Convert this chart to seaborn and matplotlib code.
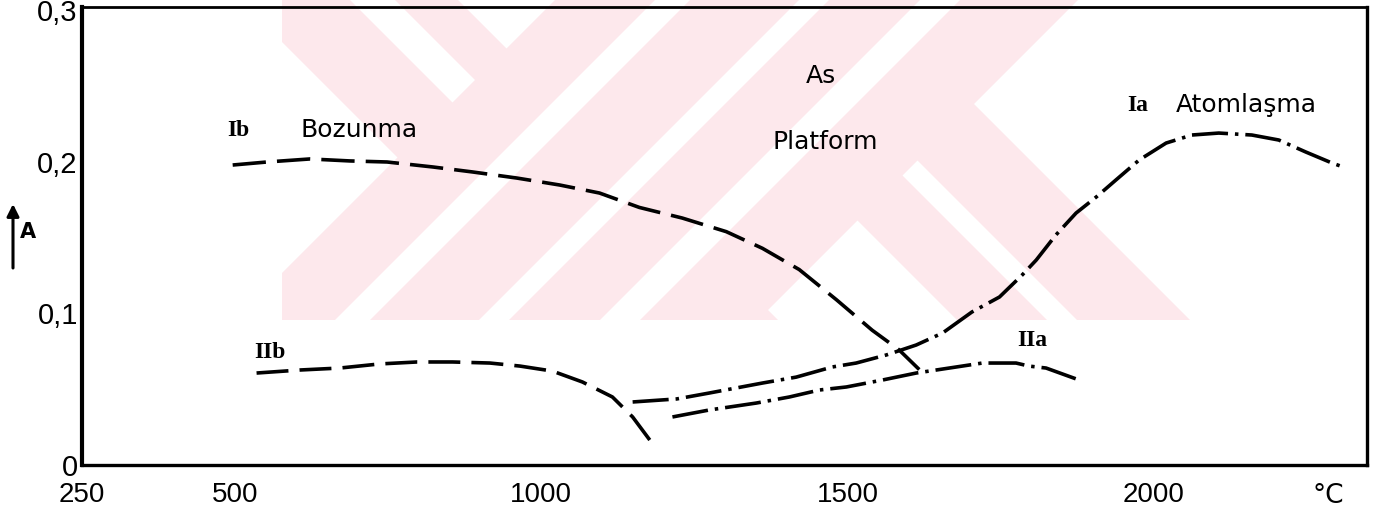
import matplotlib
matplotlib.use("Agg")
import matplotlib.pyplot as plt
from matplotlib import font_manager
from matplotlib.patches import Polygon, Rectangle
import seaborn as sns

# Absorbance A versus temperature (°C)
# Ib: decomposition (dashed)
ib_temp = [496, 552, 622, 687, 748, 823, 888, 960, 1030, 1095, 1160, 1230,
           1302, 1361, 1421, 1482, 1540, 1584, 1617]
ib_abs = [0.198, 0.200, 0.202, 0.2007, 0.200, 0.1967, 0.1934, 0.1894, 0.1848,
          0.1795, 0.170, 0.163, 0.154, 0.143, 0.129, 0.109, 0.089, 0.076, 0.063]

# IIb (dashed)
iib_temp = [535, 606, 671, 736, 797, 855, 916, 965, 1018, 1067, 1116, 1149, 1177]
iib_abs = [0.0607, 0.0627, 0.064, 0.0667, 0.068, 0.068, 0.0673, 0.0653, 0.062,
           0.0548, 0.0449, 0.0317, 0.0165]

# Ia: atomisation (dash-dot)
ia_temp = [1149, 1221, 1274, 1361, 1416, 1475, 1514, 1563, 1612, 1655, 1703,
           1748, 1785, 1808, 1840, 1873, 1906, 1938, 1976, 2020, 2062, 2106,
           2160, 2204, 2248, 2291, 2314]
ia_abs = [0.0416, 0.0436, 0.0475, 0.0541, 0.058, 0.0647, 0.0673, 0.0726, 0.0792,
          0.0871, 0.101, 0.1109, 0.1254, 0.1353, 0.1518, 0.1663, 0.1769, 0.1881,
          0.2013, 0.2125, 0.2178, 0.2191, 0.2178, 0.2145, 0.2066, 0.1993, 0.196]

# IIa (dash-dot)
iia_temp = [1214, 1274, 1351, 1405, 1454, 1498, 1557, 1612, 1666, 1720, 1775,
            1796, 1824, 1878]
iia_abs = [0.0317, 0.0363, 0.0409, 0.0449, 0.0495, 0.0515, 0.0561, 0.0607,
           0.064, 0.0673, 0.0673, 0.0653, 0.064, 0.0561]

x_ticks = [250, 500, 1000, 1500, 2000]
x_tick_labels = ["250", "500", "1000", "1500", "2000"]
y_ticks = [0, 0.1, 0.2, 0.3]
y_tick_labels = ["0", "0,1", "0,2", "0,3"]

annotations = [
    ("Ib", 506, 0.221, "serif"),
    ("Bozunma", 606, 0.221, "sans"),
    ("IIb", 557, 0.074, "serif"),
    ("As", 1457, 0.257, "sans"),
    ("Platform", 1464, 0.213, "sans"),
    ("Ia", 1973, 0.2376, "serif"),
    ("Atomlaşma", 2036, 0.2376, "sans"),
    ("IIa", 1801, 0.0825, "serif"),
]


def first_font(names):
    for n in names:
        try:
            font_manager.findfont(n, fallback_to_default=False)
            return n
        except Exception:
            continue
    return "DejaVu Sans"


sns.set_theme(style="white")
plt.rcParams["font.family"] = ["DejaVu Sans"]
plt.rcParams["lines.scale_dashes"] = False

narrow = first_font(["Liberation Sans Narrow", "DejaVu Sans Condensed",
                     "Liberation Sans"])
serif = first_font(["Liberation Serif", "DejaVu Serif"])

W, H = 1383, 516
fig = plt.figure(figsize=(W / 100, H / 100), dpi=100)
fig.patch.set_facecolor("white")

# ---- pale watermark emblem behind the plot ----
PINK = "#fde8ec"


def to_fig(pts):
    return [(x / W, 1 - y / H) for x, y in pts]


def band(a, b, s, y0=0, y1=320):
    return [(a + s * y0, y0), (b + s * y0, y0), (b + s * y1, y1), (a + s * y1, y1)]


clip = Rectangle((282 / W, 1 - 320 / H), (1205 - 282) / W, 320 / H,
                 transform=fig.transFigure)
layers = [
    (band(240, 458, 1), PINK), (band(350, 395, 1), "white"),
    (band(637, 870, 1), PINK), (band(727, 757, 1), "white"),
    (band(555, 1078, -1), PINK),
    (band(655, 690, -1), "white"), (band(799, 829, -1), "white"),
    (band(920, 960, -1), "white"),
]
for pts, col in layers:
    p = Polygon(to_fig(pts), closed=True, transform=fig.transFigure,
                facecolor=col, edgecolor="none", zorder=-2)
    fig.add_artist(p)
    p.set_clip_path(clip)

# ---- main axes ----
ax = fig.add_axes([82 / W, 1 - 465 / H, (1367 - 82) / W, (465 - 7) / H])
ax.set_facecolor("none")

styles = [
    (ib_temp, ib_abs, (0, (24, 8))),
    (iib_temp, iib_abs, (0, (23, 8))),
    (ia_temp, ia_abs, (0, (26, 5, 2.5, 5))),
    (iia_temp, iia_abs, (0, (26, 5, 2.5, 5))),
]
for t, a, ls in styles:
    sns.lineplot(x=t, y=a, ax=ax, color="black", linewidth=2.6,
                 estimator=None, sort=False)
    ax.lines[-1].set_linestyle(ls)

ax.set_xlim(250, 2348)
ax.set_ylim(0, 0.3023)

ax.set_xticks(x_ticks)
ax.set_xticklabels(x_tick_labels, fontfamily=narrow, fontsize=20)
ax.set_yticks(y_ticks)
ax.set_yticklabels(y_tick_labels, fontfamily=narrow, fontsize=21)
ax.tick_params(axis="x", direction="in", length=9, width=2.4, pad=12,
               colors="black")
ax.tick_params(axis="y", direction="in", length=12, width=2.4, pad=3,
               colors="black")
ax.set_xlabel("")
ax.set_ylabel("")

for side, lw in [("left", 3.0), ("bottom", 2.4), ("top", 2.0), ("right", 2.4)]:
    ax.spines[side].set_visible(True)
    ax.spines[side].set_color("black")
    ax.spines[side].set_linewidth(lw)

for txt, x, y, kind in annotations:
    if kind == "sans":
        ax.text(x, y, txt, fontsize=18, family="DejaVu Sans",
                ha="left" if txt in ("Bozunma", "Atomlaşma") else "center",
                va="center", color="black")
    else:
        ax.text(x, y, txt, fontsize=17, family=serif, fontweight="bold",
                ha="center", va="center", color="black")

# unit at the end of the temperature axis
fig.text(1328 / W, 1 - 496 / H, "°C", fontsize=19, ha="center", va="center",
         color="black")

# vertical quantity label: upward arrow with A
ax.annotate("", xy=(13 / W, 1 - 204 / H), xytext=(13 / W, 1 - 268 / H),
            xycoords="figure fraction", textcoords="figure fraction",
            arrowprops=dict(arrowstyle="-|>", lw=2.2, color="black",
                            mutation_scale=18, shrinkA=0, shrinkB=0),
            annotation_clip=False)
fig.text(28 / W, 1 - 232 / H, "A", fontsize=15, fontweight="bold",
         ha="center", va="center", color="black")

fig.savefig("out.png", dpi=100, facecolor="white")
